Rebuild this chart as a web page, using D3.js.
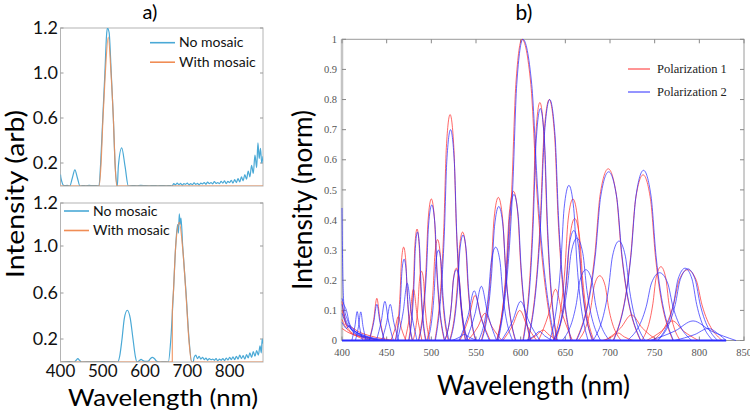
<!DOCTYPE html>
<html><head><meta charset="utf-8">
<script src="https://cdn.jsdelivr.net/npm/d3@7"></script>
<style>body{margin:0;background:#fff}</style>
</head><body>
<svg id="c" width="750" height="415"></svg>
<script>
// ---------------- DATA ----------------
// Panel a (tick labels as printed on the figure)
const aYTickLabels = [0.2, 0.6, 1.0, 1.2];
const aXTicks = [400, 500, 600, 700, 800];
const aLegend = ["No mosaic", "With mosaic"];

const topNoMosaic = [[400,0.1],[401,0.07],[403,0.04],[406,0.01],[410,0.003],[416,0.005],[422,0],[428,0.07],[434,0.14],[440,0.07],[446,0],[452,0.004],[460,0.002],[468,0.005],[476,0.003],[484,0.004],[491,0],[495,0.2],[500,0.6],[505,1.0],[509,1.17],[511,1.2],[515,1.18],[520,1.0],[525,0.6],[529,0.2],[534.4,0],[536.8,0.17],[544.8,0.335],[552.7,0.17],[560.5,0],[570,0.004],[580,0.002],[590,0.005],[600,0.003],[610,0.002],[620,0.004],[630,0.002],[640,0.003],[650,0.002],[660,0.004],
 [664,0.0],[668,0.02],[672,0.01],[676,0.025],[680,0.012],[684,0.022],[688,0.008],[692,0.02],[696,0.015],[700,0.025],[704,0.01],[708,0.02],[712,0.012],[716,0.028],[720,0.015],[724,0.022],[728,0.01],[732,0.025],[736,0.018],[740,0.03],[744,0.015],[748,0.035],[752,0.02],[756,0.03],[760,0.018],[764,0.038],[768,0.022],[772,0.03],[776,0.02],[780,0.04],[784,0.025],[788,0.045],[792,0.02],[796,0.04],[800,0.03],[804,0.05],[808,0.025],[812,0.055],[816,0.03],[820,0.065],[824,0.035],[828,0.08],[832,0.045],[836,0.1],[840,0.06],[844,0.13],[848,0.08],[852,0.18],[856,0.11],[860,0.27],[864,0.16],[867,0.38],[870,0.24],[873,0.33],[876,0.2],[879,0.26]];
const topWithMosaic = [[400,0],[491.5,0],[496,0.2],[500.5,0.6],[506,1.0],[513,1.16],[519.5,1.0],[525,0.6],[529,0.2],[533,0],[879,0]];

const bottomNoMosaic = [[400,0],[420,0.003],[433,0],[437,0.015],[441,0.03],[445,0.015],[450,0],[470,0.002],[500,0.003],[520,0.002],[535,0],[540,0.05],[545.5,0.2],[551,0.38],[558,0.45],[565,0.38],[571.5,0.2],[577,0.05],[581,0],[586,0.01],[590.5,0.022],[596,0.01],[602,0.005],[608,0.008],[613,0.03],[617,0.04],[622,0.03],[628,0.005],[635,0],[645,0.002],[655,0],[661,0.2],[667,0.6],[672.5,1.0],[677,1.1],[679,1.06],[681,1.15],[683,1.1],[685,1.13],[689,1.0],[697,0.6],[704,0.2],[710.5,0],
 [714,0.0],[716,0.04],[720,0.06],[724,0.03],[728,0.05],[732,0.025],[736,0.04],[740,0.02],[744,0.035],[748,0.015],[752,0.03],[756,0.02],[760,0.025],[764,0.015],[768,0.03],[772,0.01],[776,0.025],[780,0.015],[784,0.03],[788,0.012],[792,0.035],[796,0.018],[800,0.04],[804,0.02],[808,0.045],[812,0.02],[816,0.05],[820,0.025],[824,0.06],[828,0.03],[832,0.055],[836,0.025],[840,0.065],[844,0.035],[848,0.08],[852,0.04],[856,0.09],[860,0.05],[864,0.1],[868,0.06],[872,0.14],[875,0.08],[877,0.2],[879,0.16]];
const bottomWithMosaic = [[400,0],[664.5,0],[664.6,0.45],[667,0.6],[672.5,1.0],[681,1.11],[689,0.98],[697,0.58],[704,0.18],[710,0],[879,0]];

// Panel b
const bXTicks = [400,450,500,550,600,650,700,750,800,850];
const bYTicks = [0,0.1,0.2,0.3,0.4,0.5,0.6,0.7,0.8,0.9,1];
const bLegend = ["Polarization 1", "Polarization 2"];

const pol1Peaks = [
 [[430.5,0],[435.5,.07],[439,.14],[442.5,.07],[447.5,0]],
 [[454.5,0],[459.5,.04],[463,.08],[466.5,.04],[471.5,0]],
 [[459.5,0],[465,.155],[466.6,.264],[469,.31],[471.4,.264],[473,.155],[478.5,0]],
 [[470.5,0],[476,.085],[480,.17],[484,.085],[489.5,0]],
 [[474.5,0],[480,.185],[481.6,.315],[484,.37],[486.4,.315],[488,.185],[493.5,0]],
 [[479.5,0],[485,.115],[486.6,.196],[489,.23],[491.4,.196],[493,.115],[498.5,0]],
 [[485.5,0],[494,.235],[496.4,.40],[500,.47],[503.6,.40],[506,.235],[514.5,0]],
 [[495,0],[502,.17],[504,.285],[507,.335],[510,.285],[512,.17],[519,0]],
 [[504,0],[514,.375],[516.8,.64],[521,.75],[525.2,.64],[528,.375],[538,0]],
 [[515,0],[522.5,.12],[524.7,.204],[528,.24],[531.3,.204],[533.5,.12],[541,0]],
 [[520.5,0],[529,.18],[531.4,.306],[535,.36],[538.6,.306],[541,.18],[549.5,0]],
 [[532,0],[542,.075],[549,.15],[556,.075],[566,0]],
 [[541,0],[552,.045],[560,.09],[568,.045],[579,0]],
 [[556,0],[567,.24],[570.2,.404],[575,.475],[579.8,.404],[583,.24],[594,0]],
 [[573,0],[584,.25],[587.2,.42],[592,.495],[596.8,.42],[600,.25],[611,0]],
 [[580,0],[591,.05],[599,.10],[607,.05],[618,0]],
 [[574,0],[590,.5],[594.6,.85],[601.5,1],[611.4,.85],[618,.5],[637,0]],
 [[602.5,0],[613.5,.395],[616.7,.67],[621.5,.79],[626.3,.67],[629.5,.395],[640.5,0]],
 [[608,0],[622,.4],[626,.68],[632,.8],[638,.68],[642,.4],[656,0]],
 [[608,0],[618,.018],[625,.035],[632,.018],[642,0]],
 [[620,0],[631,.085],[639,.17],[647,.085],[658,0]],
 [[637,0],[649.5,.235],[653.1,.40],[658.5,.47],[663.9,.40],[667.5,.235],[680,0]],
 [[639,0],[651.5,.2],[655.1,.344],[660.5,.405],[665.9,.344],[669.5,.2],[682,0]],
 [[664.5,0],[678.5,.108],[682.5,.183],[688.5,.215],[694.5,.183],[698.5,.108],[712.5,0]],
 [[662,0],[683,.285],[689,.485],[698,.57],[707,.485],[713,.285],[734,0]],
 [[692,0],[702,.012],[709,.025],[716,.012],[726,0]],
 [[695,0],[712,.042],[724,.085],[736,.042],[753,0]],
 [[703.5,0],[723,.275],[728.6,.468],[737,.55],[745.4,.468],[751,.275],[770.5,0]],
 [[735.5,0],[748,.122],[751.6,.208],[757,.245],[762.4,.208],[766,.122],[778.5,0]],
 [[741,0],[758,.032],[770,.065],[782,.032],[799,0]],
 [[748.5,0],[771,.118],[777.4,.20],[787,.235],[796.6,.20],[803,.118],[825.5,0]],
 [[400,0.13],[401.5,0.1],[404,0.06],[408,0.035],[415,0.02],[428,0.01],[440,0]],
 [[400,0.07],[403,0.05],[408,0.03],[416,0.015],[430,0]],
 [[400,0.04],[405,0.03],[412,0.02],[425,0.01],[445,0]],
 [[400,0.1],[402,0.08],[405,0.05],[410,0.045],[418,0.03],[432,0.015],[460,0]]
];
const pol2Peaks = [
 [[411,0],[414.5,.048],[417,.096],[419.5,.048],[423,0]],
 [[415,0],[418.5,.047],[421,.095],[423.5,.047],[427,0]],
 [[430.5,0],[435.5,.06],[439,.12],[442.5,.06],[447.5,0]],
 [[438.5,0],[444,.065],[448,.13],[452,.065],[457.5,0]],
 [[444.5,0],[450,.06],[454,.12],[458,.06],[463.5,0]],
 [[460,0],[465.5,.135],[467.1,.23],[469.5,.27],[471.9,.23],[473.5,.135],[479,0]],
 [[462,0],[468.5,.095],[473,.19],[477.5,.095],[484,0]],
 [[475,0],[480.5,.18],[482.1,.306],[484.5,.36],[486.9,.306],[488.5,.18],[494,0]],
 [[486,0],[494.5,.225],[496.9,.383],[500.5,.45],[504.1,.383],[506.5,.225],[515,0]],
 [[496,0],[503,.15],[505,.255],[508,.30],[511,.255],[513,.15],[520,0]],
 [[504.5,0],[514.5,.35],[517.3,.595],[521.5,.70],[525.7,.595],[528.5,.35],[538.5,0]],
 [[515,0],[522.5,.117],[524.7,.2],[528,.235],[531.3,.2],[533.5,.117],[541,0]],
 [[521,0],[529.5,.175],[531.9,.298],[535.5,.35],[539.1,.298],[541.5,.175],[550,0]],
 [[523,0],[531,.01],[537,.02],[543,.01],[551,0]],
 [[531,0],[541,.082],[548,.165],[555,.082],[565,0]],
 [[539,0],[549,.09],[556,.18],[563,.09],[573,0]],
 [[553,0],[564,.155],[567.2,.264],[572,.31],[576.8,.264],[580,.155],[591,0]],
 [[556.5,0],[567.5,.222],[570.7,.378],[575.5,.445],[580.3,.378],[583.5,.222],[594.5,0]],
 [[573.5,0],[584.5,.242],[587.7,.412],[592.5,.485],[597.3,.412],[600.5,.242],[611.5,0]],
 [[578.5,0],[591,.065],[600,.13],[609,.065],[621.5,0]],
 [[575,0],[591,.5],[595.6,.85],[602.5,1],[612.4,.85],[619,.5],[638,0]],
 [[603,0],[614,.385],[617.2,.655],[622,.77],[626.8,.655],[630,.385],[641,0]],
 [[608.5,0],[622.5,.4],[626.5,.68],[632.5,.8],[638.5,.68],[642.5,.4],[656.5,0]],
 [[606.5,0],[615,.015],[621,.03],[627,.015],[635.5,0]],
 [[632.5,0],[645,.257],[648.6,.438],[654,.515],[659.4,.438],[663,.257],[675.5,0]],
 [[638,0],[650.5,.182],[654.1,.31],[659.5,.365],[664.9,.31],[668.5,.182],[681,0]],
 [[636.5,0],[652,.17],[656.4,.289],[663,.34],[669.6,.289],[674,.17],[689.5,0]],
 [[646.5,0],[662,.117],[666.4,.2],[673,.235],[679.6,.2],[684,.117],[699.5,0]],
 [[662.5,0],[683.5,.28],[689.5,.476],[698.5,.56],[707.5,.476],[713.5,.28],[734.5,0]],
 [[681,0],[698,.165],[702.8,.28],[710,.33],[717.2,.28],[722,.165],[739,0]],
 [[704,0],[723.5,.282],[729.1,.48],[737.5,.565],[745.9,.48],[751.5,.282],[771,0]],
 [[719.5,0],[740.5,.112],[746.5,.191],[755.5,.225],[764.5,.191],[770.5,.112],[791.5,0]],
 [[753,0],[771,.12],[776.2,.204],[784,.24],[791.8,.204],[797,.12],[815,0]],
 [[753.5,0],[773,.119],[778.6,.202],[787,.238],[795.4,.202],[801,.119],[820.5,0]],
 [[745,0],[773,.032],[793,.065],[813,.032],[841,0]],
 [[772,0],[795,.02],[810,.04],[822,.02],[830,0]],
 [[400,0.44],[400.5,0.3],[401.5,0.15],[403,0.1],[406,0.07],[410,0.04],[418,0.02],[430,0.01],[445,0]],
 [[400,0.14],[402,0.12],[405,0.1],[408,0.06],[412,0.04],[420,0.02],[435,0]],
 [[400,0.12],[403,0.08],[407,0.05],[415,0.03],[425,0.015],[440,0]],
 [[400,0.09],[404,0.06],[409,0.04],[414,0.03],[422,0.02],[440,0.005],[455,0]],
 [[400,0.06],[402,0.05],[405,0.04],[408,0.05],[412,0.03],[420,0.015],[432,0]]
];
const pol2Baseline = [[400,0],[830,0]];

// ---------------- DRAWING ----------------
const svg = d3.select('#c');
const sans = 'Lato, "Open Sans", sans-serif';
const serif = '"Liberation Serif", "DejaVu Serif", serif';
const blueA = '#4aa9d6', orangeA = '#f08d55';

// Panel a scales
const ax = d3.scaleLinear().domain([400, 879]).range([60.5, 263]);
const yTop = d3.scaleLinear().domain([0, 0.2, 0.6, 1.0, 1.2]).range([186, 163, 118, 73, 28]);
const yBot = d3.scaleLinear().domain([0, 0.2, 0.6, 1.0, 1.2]).range([362, 339, 293, 246, 203]);

function panelA(y, id, blueData, orangeData, legX, legY, showX) {
  const g = svg.append('g');
  const [x0, x1] = ax.range();
  const [yb, yt] = [y(0), y(1.2)];
  svg.append('clipPath').attr('id', id).append('rect')
    .attr('x', x0).attr('y', yt).attr('width', x1 - x0).attr('height', yb - yt);
  g.append('rect').attr('x', x0).attr('y', yt).attr('width', x1 - x0).attr('height', yb - yt)
    .attr('fill', 'none').attr('stroke', '#b4b4b4').attr('stroke-width', 1);
  aYTickLabels.forEach(t => {
    g.append('line').attr('x1', x0).attr('x2', x0 + 3).attr('y1', y(t)).attr('y2', y(t)).attr('stroke', '#999');
    g.append('line').attr('x1', x1).attr('x2', x1 - 3).attr('y1', y(t)).attr('y2', y(t)).attr('stroke', '#999');
    g.append('text').attr('x', x0 - 2.5).attr('y', y(t)).attr('dy', '0.36em')
      .attr('text-anchor', 'end').attr('font-family', sans).attr('font-size', 18).attr('fill', '#111')
      .text(t.toFixed(1));
  });
  const line = d3.line().x(d => ax(d[0])).y(d => y(d[1])).curve(d3.curveMonotoneX);
  const cg = g.append('g').attr('clip-path', `url(#${id})`);
  cg.append('path').datum(blueData).attr('d', line).attr('fill', 'none')
    .attr('stroke', blueA).attr('stroke-width', 1.2);
  cg.append('path').datum(orangeData).attr('d', line).attr('fill', 'none')
    .attr('stroke', orangeA).attr('stroke-width', 1.2).attr('opacity', 0.85);
  // legend
  [blueA, orangeA].forEach((c, i) => {
    const ly = legY + i * 19.5;
    g.append('line').attr('x1', legX).attr('x2', legX + 25).attr('y1', ly).attr('y2', ly)
      .attr('stroke', c).attr('stroke-width', 1.6);
    g.append('text').attr('x', legX + 29).attr('y', ly + 4.5).attr('font-family', sans)
      .attr('font-size', 14).attr('fill', '#111').text(aLegend[i]);
  });
  if (showX) {
    aXTicks.forEach(t => {
      g.append('text').attr('x', ax(t)).attr('y', 377).attr('text-anchor', 'middle')
        .attr('font-family', sans).attr('font-size', 17).attr('fill', '#111').text(t);
    });
  }
}
panelA(yTop, 'clipTop', topNoMosaic, topWithMosaic, 150, 42.7, false);
panelA(yBot, 'clipBot', bottomNoMosaic, bottomWithMosaic, 64, 211, true);

// Panel a labels
svg.append('text').attr('x', 150).attr('y', 19).attr('text-anchor', 'middle')
  .attr('font-family', sans).attr('font-size', 20).text('a)');
svg.append('text').attr('transform', 'translate(24,194) rotate(-90)').attr('text-anchor', 'middle')
  .attr('font-family', sans).attr('font-size', 25).attr('textLength', 168)
  .attr('lengthAdjust', 'spacingAndGlyphs').text('Intensity (arb)');
svg.append('text').attr('x', 163).attr('y', 406).attr('text-anchor', 'middle')
  .attr('font-family', sans).attr('font-size', 24).attr('textLength', 190)
  .attr('lengthAdjust', 'spacingAndGlyphs').text('Wavelength (nm)');

// Panel b
const bx = d3.scaleLinear().domain([400, 850]).range([342, 744]);
const by = d3.scaleLinear().domain([0, 1]).range([340.5, 39.3]);
const gb = svg.append('g');
gb.append('rect').attr('x', bx(400)).attr('y', by(1)).attr('width', bx(850) - bx(400))
  .attr('height', by(0) - by(1)).attr('fill', 'none').attr('stroke', '#9a9a9a').attr('stroke-width', 1);
gb.append('line').attr('x1', bx(400)).attr('x2', bx(400)).attr('y1', by(0)).attr('y2', by(1))
  .attr('stroke', '#c4c4c4').attr('stroke-width', 2.5);
bXTicks.forEach(t => {
  gb.append('line').attr('x1', bx(t)).attr('x2', bx(t)).attr('y1', by(1)).attr('y2', by(1) + 4).attr('stroke', '#888');
  gb.append('line').attr('x1', bx(t)).attr('x2', bx(t)).attr('y1', by(0)).attr('y2', by(0) - 4).attr('stroke', '#888');
  gb.append('text').attr('x', bx(t)).attr('y', 356).attr('text-anchor', 'middle')
    .attr('font-family', serif).attr('font-size', 10.5).attr('fill', '#555').text(t);
});
bYTicks.forEach(t => {
  gb.append('line').attr('x1', bx(400)).attr('x2', bx(400) + 4).attr('y1', by(t)).attr('y2', by(t)).attr('stroke', '#888');
  gb.append('line').attr('x1', bx(850)).attr('x2', bx(850) - 4).attr('y1', by(t)).attr('y2', by(t)).attr('stroke', '#888');
  gb.append('text').attr('x', 337).attr('y', by(t)).attr('dy', '0.35em').attr('text-anchor', 'end')
    .attr('font-family', serif).attr('font-size', 10.5).attr('fill', '#555').text(t);
});
const red = '#ff2b2b', blue = '#2b2bff';
const bline = d3.line().x(d => bx(d[0])).y(d => by(d[1])).curve(d3.curveMonotoneX);
gb.append('g').selectAll('path').data(pol1Peaks).join('path').attr('d', bline)
  .attr('fill', 'none').attr('stroke', red).attr('stroke-width', 0.9).attr('opacity', 0.8);
gb.append('g').selectAll('path').data(pol2Peaks).join('path').attr('d', bline)
  .attr('fill', 'none').attr('stroke', blue).attr('stroke-width', 0.9).attr('opacity', 0.8);
gb.append('path').datum(pol2Baseline).attr('d', d3.line().x(d => bx(d[0])).y(d => by(d[1])))
  .attr('stroke', blue).attr('stroke-width', 2).attr('fill', 'none');
// legend b
[red, blue].forEach((c, i) => {
  const ly = 69 + i * 23;
  gb.append('line').attr('x1', 628).attr('x2', 650).attr('y1', ly).attr('y2', ly).attr('stroke', c).attr('stroke-width', 1);
  gb.append('text').attr('x', 657).attr('y', ly + 3.8).attr('font-family', serif)
    .attr('font-size', 12.5).attr('fill', '#222').text(bLegend[i]);
});
svg.append('text').attr('x', 524).attr('y', 20).attr('text-anchor', 'middle')
  .attr('font-family', sans).attr('font-size', 21).text('b)');
svg.append('text').attr('transform', 'translate(312,200) rotate(-90)').attr('text-anchor', 'middle')
  .attr('font-family', sans).attr('font-size', 26).attr('textLength', 180)
  .attr('lengthAdjust', 'spacingAndGlyphs').text('Intensity (norm)');
svg.append('text').attr('x', 533.5).attr('y', 395).attr('text-anchor', 'middle')
  .attr('font-family', sans).attr('font-size', 26).attr('textLength', 193)
  .attr('lengthAdjust', 'spacingAndGlyphs').text('Wavelength (nm)');
</script>
</body></html>
